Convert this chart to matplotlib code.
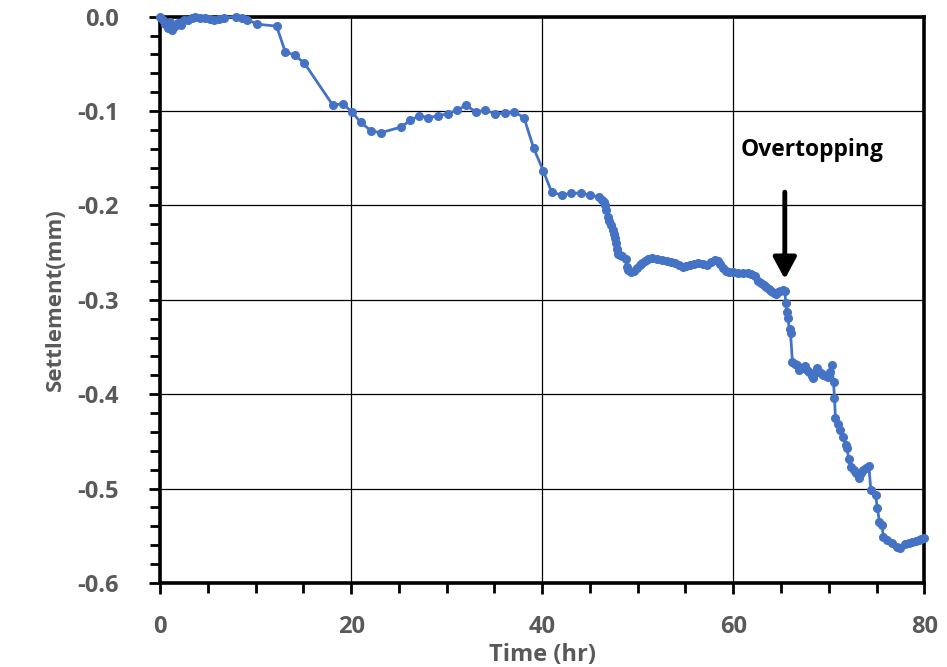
import matplotlib.pyplot as plt
from matplotlib.ticker import MultipleLocator

# settlement record (time in hours, settlement in mm)
time_hr = [0.0, 0.3, 0.5, 0.8, 1.0, 1.3, 1.6, 1.9, 2.2, 2.5, 2.9, 3.3, 3.7, 4.2, 4.7,
           5.2, 5.7, 6.2, 6.7, 8.0, 8.6, 9.1, 10.2, 12.2, 13.1, 14.1, 15.1, 18.1, 19.1,
           20.1, 21.0, 22.1, 23.1, 25.2, 26.2, 27.1, 28.1, 29.1, 30.1, 31.1, 32.0, 33.1,
           34.0, 35.1, 36.1, 37.1, 38.1, 39.1, 40.1, 41.0, 42.1, 43.0, 44.1, 45.0, 46.0,
           46.3, 46.5, 46.6, 46.7, 46.9, 47.0, 47.2, 47.4, 47.5, 47.6, 47.7, 47.8, 47.9,
           48.2, 48.4, 48.8, 48.9, 49.0, 49.3, 49.6, 49.9, 50.2, 50.5, 50.8, 51.1, 51.5,
           52.0, 52.5, 53.1, 53.5, 53.9, 54.3, 54.7, 55.1, 55.5, 55.9, 56.3, 56.8, 57.3,
           57.7, 58.1, 58.4, 58.6, 58.9, 59.2, 59.6, 60.0, 60.5, 61.0, 61.5, 61.9, 62.3,
           62.6, 62.9, 63.2, 63.4, 63.7, 64.0, 64.3, 64.5, 64.7, 64.9, 65.2, 65.4, 65.5,
           65.6, 65.7, 65.9, 66.0, 66.2, 66.5, 66.7, 66.9, 67.2, 67.5, 67.7, 67.9, 68.2,
           68.4, 68.6, 68.8, 69.0, 69.2, 69.4, 69.7, 69.9, 70.1, 70.3, 70.5, 70.6, 70.7,
           71.0, 71.2, 71.5, 71.8, 71.9, 72.1, 72.3, 72.6, 72.9, 73.2, 73.4, 73.6, 73.9,
           74.2, 74.4, 74.9, 75.1, 75.3, 75.6, 75.7, 76.1, 76.6, 77.1, 77.5, 78.0, 78.4,
           78.7, 79.1, 79.4, 79.7, 80.0]
settlement_mm = [0.0, -0.004, -0.008, -0.012, -0.006, -0.014, -0.010, -0.007, -0.009,
                 -0.004, -0.003, -0.001, 0.0, -0.001, -0.001, -0.002, -0.003, -0.002,
                 -0.001, 0.0, -0.001, -0.003, -0.008, -0.010, -0.037, -0.041, -0.049,
                 -0.094, -0.092, -0.101, -0.112, -0.121, -0.123, -0.117, -0.110, -0.105,
                 -0.107, -0.105, -0.103, -0.099, -0.094, -0.101, -0.099, -0.103, -0.102,
                 -0.101, -0.107, -0.139, -0.163, -0.186, -0.189, -0.187, -0.187, -0.189,
                 -0.191, -0.194, -0.196, -0.200, -0.205, -0.212, -0.216, -0.221, -0.226,
                 -0.230, -0.235, -0.240, -0.246, -0.251, -0.253, -0.254, -0.257, -0.265,
                 -0.268, -0.271, -0.269, -0.266, -0.263, -0.261, -0.259, -0.257, -0.256,
                 -0.257, -0.258, -0.259, -0.260, -0.261, -0.263, -0.265, -0.264, -0.263,
                 -0.262, -0.261, -0.262, -0.263, -0.260, -0.258, -0.259, -0.262, -0.266,
                 -0.269, -0.271, -0.271, -0.272, -0.272, -0.272, -0.273, -0.275, -0.280,
                 -0.282, -0.284, -0.286, -0.289, -0.291, -0.293, -0.294, -0.292, -0.291,
                 -0.290, -0.291, -0.303, -0.313, -0.319, -0.331, -0.335, -0.366, -0.368,
                 -0.369, -0.374, -0.372, -0.370, -0.374, -0.377, -0.381, -0.383, -0.378,
                 -0.372, -0.376, -0.378, -0.380, -0.381, -0.382, -0.376, -0.369, -0.387,
                 -0.404, -0.425, -0.432, -0.438, -0.445, -0.454, -0.457, -0.469, -0.477,
                 -0.480, -0.483, -0.489, -0.484, -0.480, -0.478, -0.476, -0.501, -0.507,
                 -0.521, -0.535, -0.539, -0.551, -0.554, -0.558, -0.562, -0.563, -0.559,
                 -0.558, -0.557, -0.556, -0.554, -0.553, -0.552]

# overtopping marker
event_label = "Overtopping"
event_time = 65.4
event_settlement = -0.281

grey = "#595959"
plt.rcParams['font.family'] = ['Open Sans', 'DejaVu Sans']

fig = plt.figure(figsize=(9.47, 6.67), dpi=100)
ax = fig.add_axes([0.169, 0.126, 0.807, 0.849])

ax.plot(time_hr, settlement_mm, color="#4472C4", lw=2.0, marker="o", ms=5.5,
        zorder=3, clip_on=False)

ax.set_xlim(0, 80)
ax.set_ylim(-0.6, 0.0)
ax.xaxis.set_major_locator(MultipleLocator(20))
ax.xaxis.set_minor_locator(MultipleLocator(5))
ax.yaxis.set_major_locator(MultipleLocator(0.1))
ax.yaxis.set_minor_locator(MultipleLocator(0.02))
ax.set_yticks([0.0, -0.1, -0.2, -0.3, -0.4, -0.5, -0.6])
ax.set_yticklabels(["0.0", "-0.1", "-0.2", "-0.3", "-0.4", "-0.5", "-0.6"])
ax.grid(True, which="major", color="black", lw=0.9)

for s in ax.spines.values():
    s.set_linewidth(2.6)
ax.tick_params(which="both", direction="out", width=2, colors="black",
               labelcolor=grey, labelsize=17)
ax.tick_params(which="major", length=8)
ax.tick_params(which="minor", length=7)
ax.tick_params(axis="x", pad=15)
ax.tick_params(axis="y", pad=22)
for lab in ax.get_xticklabels() + ax.get_yticklabels():
    lab.set_fontweight("bold")

ax.set_xlabel("Time (hr)", fontsize=17, fontweight="bold", color=grey, labelpad=3)
ax.set_ylabel("Settlement(mm)", fontsize=16, fontweight="bold", color=grey, labelpad=8)

ax.annotate("", xy=(event_time, event_settlement), xytext=(event_time, -0.183),
            arrowprops=dict(arrowstyle="-|>,head_width=0.7,head_length=1.3",
                            color="black", lw=3.5), zorder=4)
ax.text(68.3, -0.141, event_label, fontsize=16.5, fontweight="bold",
        ha="center", va="center", color="black")

fig.savefig("out.png", dpi=100)
